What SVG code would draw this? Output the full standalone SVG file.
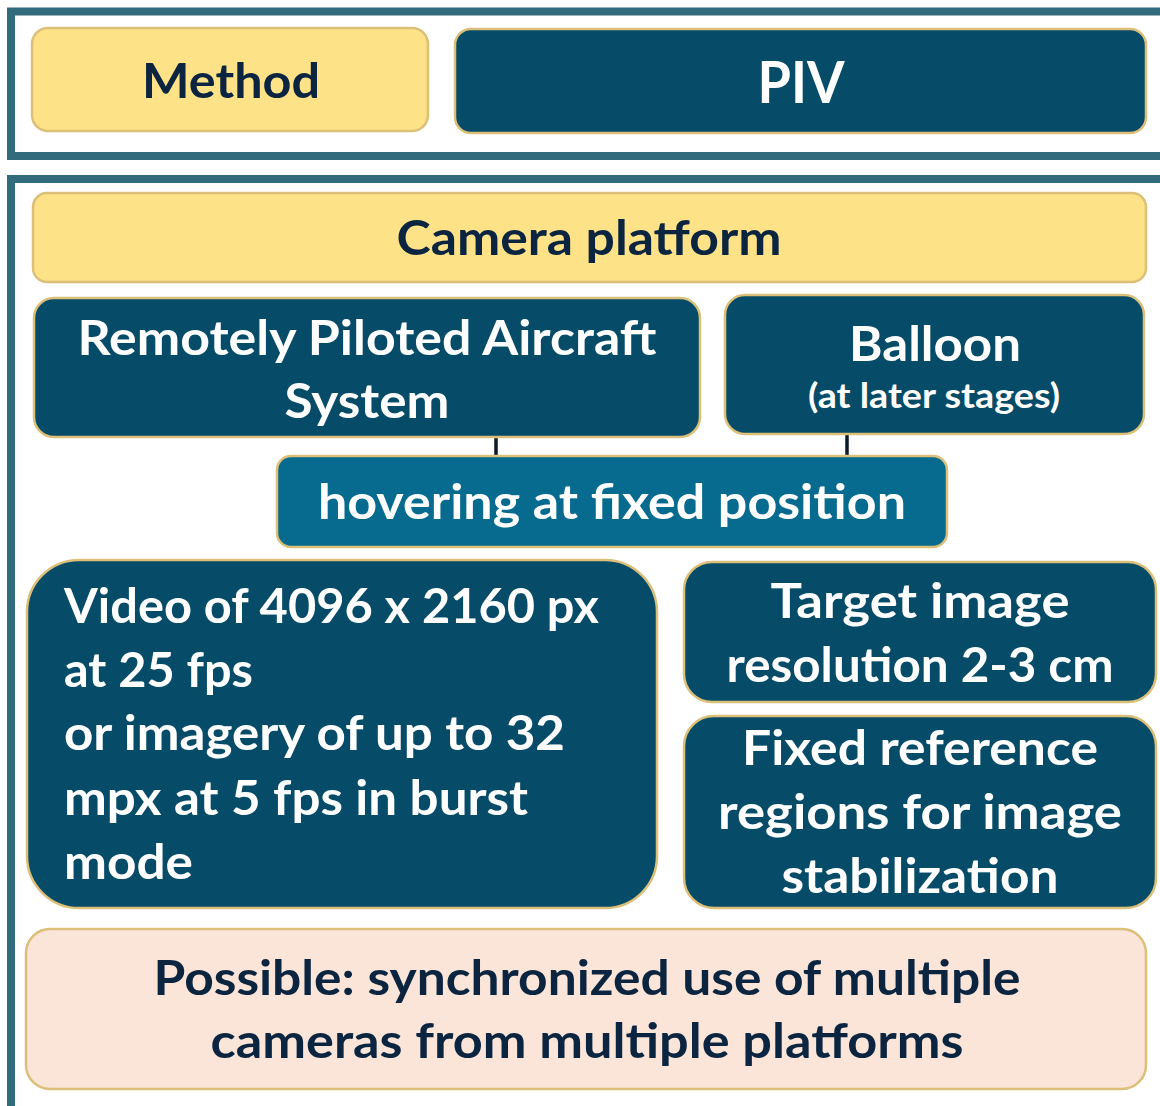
<svg xmlns="http://www.w3.org/2000/svg" width="1160" height="1106" viewBox="0 0 1160 1106">
<style>
.frame{fill:none;stroke:#326b7b;stroke-width:8}
.box{stroke:#dcbf78;stroke-width:2.5}
.yellow{fill:#fde287}
.dark{fill:#064c68}
.mid{fill:#076a8f}
.peach{fill:#fae5d8}
text{font-family:Lato,"Open Sans","Liberation Sans",sans-serif;font-weight:bold;font-size:48px}
.w{fill:#ffffff}
.n{fill:#0b2540}
.c{text-anchor:middle}
.conn{stroke:#0b1a2a;stroke-width:3.5}
</style>
<rect width="1160" height="1106" fill="#ffffff"/>
<rect class="frame" x="11" y="11.5" width="1170" height="144.5"/>
<rect class="frame" x="11" y="179" width="1170" height="960"/>
<g id="connectors">
<line class="conn" x1="496" y1="437" x2="496" y2="456"/>
<line class="conn" x1="847" y1="434" x2="847" y2="456"/>
</g>
<g id="method">
<rect class="box yellow" x="32" y="28" width="396" height="103" rx="16"/>
<text class="n c" x="231" y="98" font-size="51" textLength="178" lengthAdjust="spacingAndGlyphs">Method</text>
</g>
<g id="piv">
<rect class="box dark" x="455" y="29" width="691" height="104" rx="16"/>
<text class="w c" x="801" y="103" style="font-size:57px" textLength="87" lengthAdjust="spacingAndGlyphs">PIV</text>
</g>
<g id="camera-platform">
<rect class="box yellow" x="33" y="193" width="1113" height="89" rx="14"/>
<text class="n c" x="589" y="255" textLength="385" lengthAdjust="spacingAndGlyphs">Camera platform</text>
</g>
<g id="rpas">
<rect class="box dark" x="34" y="298" width="666" height="139" rx="20"/>
<text class="w c" x="367" y="355" textLength="579" lengthAdjust="spacingAndGlyphs">Remotely Piloted Aircraft</text>
<text class="w c" x="367" y="418" textLength="165" lengthAdjust="spacingAndGlyphs">System</text>
</g>
<g id="balloon">
<rect class="box dark" x="725" y="295" width="419" height="139" rx="20"/>
<text class="w c" x="935" y="361" textLength="172" lengthAdjust="spacingAndGlyphs">Balloon</text>
<text class="w c" x="934" y="408" style="font-size:35px" textLength="252" lengthAdjust="spacingAndGlyphs">(at later stages)</text>
</g>
<g id="hovering">
<rect class="box mid" x="277" y="456" width="670" height="91" rx="14"/>
<text class="w c" x="612" y="519" textLength="588" lengthAdjust="spacingAndGlyphs">hovering at fixed position</text>
</g>
<g id="video">
<rect class="box dark" x="27" y="560" width="630" height="348" rx="52"/>
<text class="w" x="64" y="623" textLength="535" lengthAdjust="spacingAndGlyphs">Video of 4096 x 2160 px</text>
<text class="w" x="64" y="687" textLength="189" lengthAdjust="spacingAndGlyphs">at 25 fps</text>
<text class="w" x="64" y="750" textLength="501" lengthAdjust="spacingAndGlyphs">or imagery of up to 32</text>
<text class="w" x="64" y="815" textLength="464" lengthAdjust="spacingAndGlyphs">mpx at 5 fps in burst</text>
<text class="w" x="64" y="879" textLength="129" lengthAdjust="spacingAndGlyphs">mode</text>
</g>
<g id="target">
<rect class="box dark" x="684" y="562" width="472" height="140" rx="28"/>
<text class="w c" x="920" y="618" textLength="299" lengthAdjust="spacingAndGlyphs">Target image</text>
<text class="w c" x="920" y="682" textLength="387" lengthAdjust="spacingAndGlyphs">resolution 2-3 cm</text>
</g>
<g id="fixed-reference">
<rect class="box dark" x="684" y="716" width="472" height="192" rx="30"/>
<text class="w c" x="920" y="765" textLength="356" lengthAdjust="spacingAndGlyphs">Fixed reference</text>
<text class="w c" x="920" y="829" textLength="404" lengthAdjust="spacingAndGlyphs">regions for image</text>
<text class="w c" x="920" y="893" textLength="277" lengthAdjust="spacingAndGlyphs">stabilization</text>
</g>
<g id="possible">
<rect class="box peach" x="26" y="929" width="1120" height="160" rx="24"/>
<text class="n c" x="587" y="995" textLength="867" lengthAdjust="spacingAndGlyphs">Possible: synchronized use of multiple</text>
<text class="n c" x="587" y="1058" textLength="753" lengthAdjust="spacingAndGlyphs">cameras from multiple platforms</text>
</g>
</svg>
